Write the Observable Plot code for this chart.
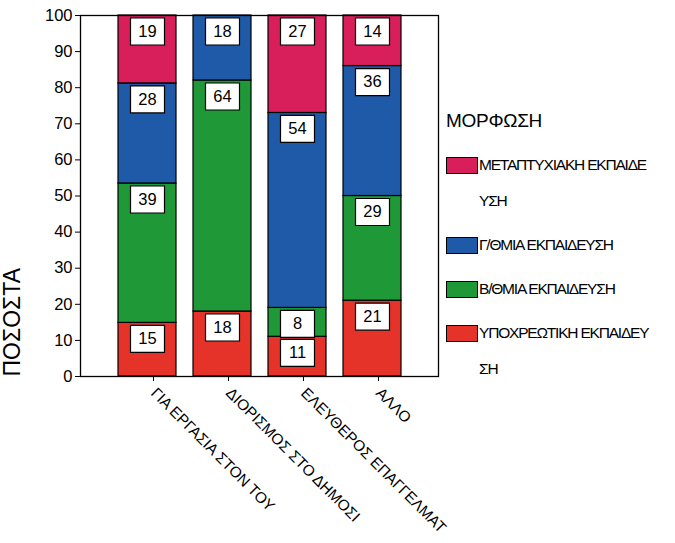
<!DOCTYPE html>
<html>
<head>
<meta charset="utf-8">
<script src="https://cdn.jsdelivr.net/npm/d3@7"></script>
<script src="https://cdn.jsdelivr.net/npm/@observablehq/plot@0.6"></script>
<style>
  body { margin: 0; background: #fff; font-family: "Liberation Sans", Arial, sans-serif; }
  #wrap { position: relative; width: 675px; height: 543px; overflow: hidden; }
  #legend { position: absolute; left: 446px; top: 103px; color: #000; }
  #legend .title { font-size: 19px; line-height: 36px; letter-spacing: -0.3px; }
  #legend .entry { display: flex; align-items: flex-start; margin-top: 8px; }
  #legend .sw { width: 30px; height: 15px; border: 1px solid #000; margin-top: 10px; flex: none; }
  #legend .txt { font-size: 15.5px; line-height: 36px; letter-spacing: -1.2px; margin-left: 1px; white-space: nowrap; }
</style>
</head>
<body>
<div id="wrap"></div>
<script>
// ---- data ----
const categories = ["ΓΙΑ ΕΡΓΑΣΙΑ ΣΤΟΝ ΤΟΥ", "ΔΙΟΡΙΣΜΟΣ ΣΤΟ ΔΗΜΟΣΙ", "ΕΛΕΥΘΕΡΟΣ ΕΠΑΓΓΕΛΜΑΤ", "ΑΛΛΟ"];
const levels = ["ΥΠΟΧΡΕΩΤΙΚΗ ΕΚΠΑΙΔΕΥΣΗ", "Β/ΘΜΙΑ ΕΚΠΑΙΔΕΥΣΗ", "Γ/ΘΜΙΑ ΕΚΠΑΙΔΕΥΣΗ", "ΜΕΤΑΠΤΥΧΙΑΚΗ ΕΚΠΑΙΔΕΥΣΗ"];
const compulsory = [15, 18, 11, 21];
const secondary  = [39, 64, 8, 29];
const tertiary   = [28, 18, 54, 36];
const postgrad   = [19, 0, 27, 14];
const legendLines = [["ΥΠΟΧΡΕΩΤΙΚΗ ΕΚΠΑΙΔΕΥ", "ΣΗ"], ["Β/ΘΜΙΑ ΕΚΠΑΙΔΕΥΣΗ"], ["Γ/ΘΜΙΑ ΕΚΠΑΙΔΕΥΣΗ"], ["ΜΕΤΑΠΤΥΧΙΑΚΗ ΕΚΠΑΙΔΕ", "ΥΣΗ"]];
const legendTitle = "ΜΟΡΦΩΣΗ";
const yLabel = "ΠΟΣΟΣΤΑ";
const yTicks = [0, 10, 20, 30, 40, 50, 60, 70, 80, 90, 100];
const colors = ["#e5332a", "#1f9937", "#1e5aa8", "#d81e5b"];

const series = [compulsory, secondary, tertiary, postgrad];
const data = [];
categories.forEach((c, i) => {
  series.forEach((arr, j) => data.push({category: c, level: levels[j], value: arr[i]}));
});

const boxSymbol = {
  draw(ctx) {
    ctx.moveTo(-17, -13.5); ctx.lineTo(17, -13.5); ctx.lineTo(17, 13.5); ctx.lineTo(-17, 13.5); ctx.closePath();
  }
};

const stackOpts = {x: "category", y: "value", z: "level", order: levels, offset: "normalize"};

const plot = Plot.plot({
  width: 675,
  height: 543,
  marginLeft: 80,
  marginRight: 237,
  marginTop: 15,
  marginBottom: 167,
  style: {fontFamily: "'Liberation Sans', Arial, sans-serif", background: "white", color: "black", overflow: "visible"},
  x: {domain: categories, paddingInner: 0.227, paddingOuter: 0.5, label: null},
  y: {domain: [0, 1], label: null},
  color: {domain: levels, range: colors},
  marks: [
    Plot.barY(data, Plot.stackY({...stackOpts, fill: "level", stroke: "black", strokeWidth: 1.2})),
    Plot.dot(data, Plot.stackY2({...stackOpts, filter: d => d.value > 0, symbol: boxSymbol, r: 10, fill: "white", stroke: "black", strokeWidth: 1.2, dy: 16})),
    Plot.text(data, Plot.stackY2({...stackOpts, filter: d => d.value > 0, text: d => String(d.value), dy: 16, fontSize: 16.5, fill: "black"})),
    Plot.frame({stroke: "black", strokeWidth: 1.3}),
    Plot.axisY({ticks: yTicks.map(v => v / 100), tickFormat: d => String(Math.round(d * 100)), tickSize: 5, tickPadding: 3, fontSize: 16.5, label: null}),
    Plot.axisX({tickRotate: 45, tickSize: 5, tickPadding: 9, dx: 6, fontSize: 15.3, label: null}),
    Plot.text([yLabel], {frameAnchor: "bottom-left", rotate: -90, textAnchor: "start", dx: -61, fontSize: 23, text: d => d})
  ]
});

const wrap = document.getElementById("wrap");
wrap.appendChild(plot);

// legend
const legend = d3.select(wrap).append("div").attr("id", "legend");
legend.append("div").attr("class", "title").text(legendTitle);
const order = [3, 2, 1, 0];
order.forEach(j => {
  const e = legend.append("div").attr("class", "entry");
  e.append("div").attr("class", "sw").style("background", colors[j]);
  const t = e.append("div").attr("class", "txt");
  legendLines[j].forEach(line => t.append("div").text(line));
});
</script>
</body>
</html>
